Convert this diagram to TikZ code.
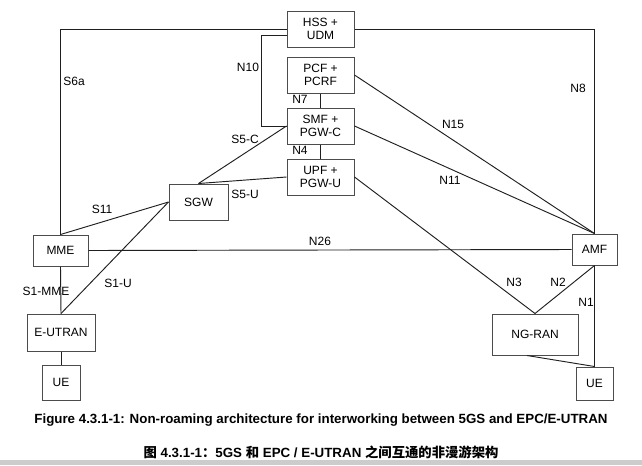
\documentclass[tikz,border=0pt]{standalone}
\usepackage{fontspec}
\setmainfont{Liberation Sans}
\newfontfamily\cjk{Noto Sans CJK SC}
\begin{document}
\begin{tikzpicture}[x=0.75pt,y=-0.75pt,
  box/.style={draw=black!70,line width=0.75pt,fill=white,inner sep=0pt,align=center,font=\fontsize{9}{9.3}\selectfont},
  conn/.style={draw=black!88,line width=0.7pt},
  lbl/.style={font=\fontsize{9}{9.3}\selectfont,inner sep=0pt},
  captext/.style={inner sep=0pt,font=\fontsize{10}{11}\selectfont\bfseries}]
\useasboundingbox (0,0) rectangle (642,465);
\fill[white] (0,0) rectangle (642,465);
\fill[black!20] (0,460) rectangle (642,465);
% nodes
\node[box,minimum width=67*0.75pt,minimum height=36*0.75pt] (HSS) at (320.5,29) {HSS +\\UDM};
\node[box,minimum width=67*0.75pt,minimum height=36*0.75pt] (PCF) at (320.5,75) {PCF +\\PCRF};
\node[box,minimum width=67*0.75pt,minimum height=36*0.75pt] (SMF) at (320.5,126) {SMF +\\PGW-C};
\node[box,minimum width=67*0.75pt,minimum height=36*0.75pt] (UPF) at (320.5,177) {UPF +\\PGW-U};
\node[box,minimum width=59*0.75pt,minimum height=36*0.75pt] (SGW) at (198.5,202) {SGW};
\node[box,minimum width=55*0.75pt,minimum height=31*0.75pt] (MME) at (60.5,250.5) {MME};
\node[box,minimum width=68*0.75pt,minimum height=37*0.75pt] (EUTRAN) at (61,332.5) {E-UTRAN};
\node[box,minimum width=38*0.75pt,minimum height=35*0.75pt] (UEa) at (61,382.5) {UE};
\node[box,minimum width=45*0.75pt,minimum height=31*0.75pt] (AMF) at (594.5,249.5) {AMF};
\node[box,minimum width=86*0.75pt,minimum height=41*0.75pt] (NGRAN) at (535,334.5) {NG-RAN};
\node[box,minimum width=37*0.75pt,minimum height=33*0.75pt] (UEb) at (594.5,383.5) {UE};
% connectors
\draw[conn] (HSS.west) -| (MME.north);
\draw[conn] (HSS.east) -| (AMF.north);
\draw[conn] (HSS.west |- 0,35) -- ++(-25,0) |- (SMF.west);
\draw[conn] (PCF.south) -- (SMF.north);
\draw[conn] (SMF.south) -- (UPF.north);
\draw[conn] (SMF.west) -- (SGW.north);
\draw[conn] (UPF.west) -- (SGW.north);
\draw[conn] (SGW.west) -- (MME.north);
\draw[conn] (SGW.west) -- (EUTRAN.north);
\draw[conn] (MME.south) -- (EUTRAN.north);
\draw[conn] (EUTRAN.south) -- (UEa.north);
\draw[conn] (MME.east) -- (AMF.west);
\draw[conn] (PCF.east) -- (AMF.north);
\draw[conn] (SMF.east) -- (AMF.north);
\draw[conn] (UPF.east) -- (NGRAN.north);
\draw[conn] (AMF.south) -- (NGRAN.north);
\draw[conn] (AMF.south) -- (UEb.north);
\draw[conn] ([xshift=-6pt]NGRAN.south) -- (UEb.north);
% labels
\node[lbl] (l1) at (74,81) {S6a};
\node[lbl] (l2) at (578,88) {N8};
\node[lbl] (l3) at (248,67) {N10};
\node[lbl] (l4) at (300,99) {N7};
\node[lbl] (l5) at (300,150) {N4};
\node[lbl] (l6) at (245,139) {S5-C};
\node[lbl] (l7) at (245,194) {S5-U};
\node[lbl] (l8) at (102,209) {S11};
\node[lbl] (l9) at (453,124) {N15};
\node[lbl] (l10) at (450,180) {N11};
\node[lbl] (l11) at (320,241) {N26};
\node[lbl] (l12) at (46,291) {S1-MME};
\node[lbl] (l13) at (118,283) {S1-U};
\node[lbl] (l14) at (514,282) {N3};
\node[lbl] (l15) at (558,282) {N2};
\node[lbl] (l16) at (586,302) {N1};
% captions
\node[captext] (cap1) at (321,420) {Figure 4.3.1-1: Non-roaming architecture for interworking between 5GS and EPC/E-UTRAN};
\node[captext] (cap2) at (321,452) {{\cjk 图} 4.3.1-1{\cjk ：}5GS {\cjk 和} EPC / E-UTRAN {\cjk 之间互通的非漫游架构}};
\end{tikzpicture}
\end{document}
